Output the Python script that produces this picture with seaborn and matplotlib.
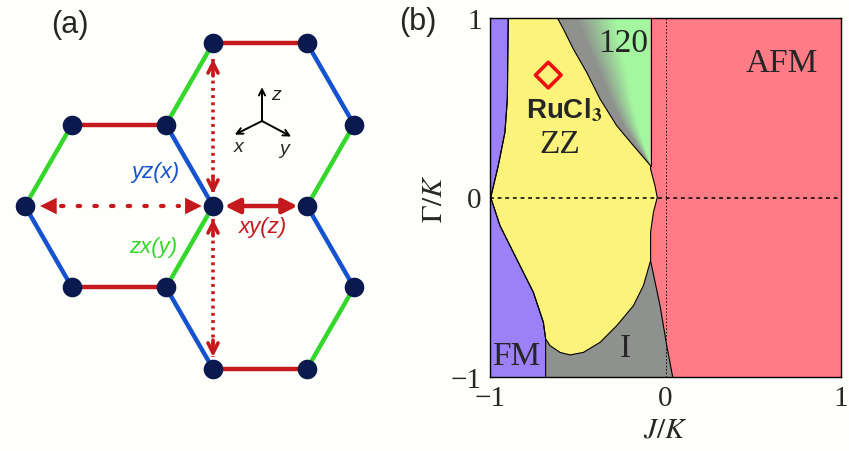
import numpy as np
import pandas as pd
import matplotlib
matplotlib.use("Agg")
import matplotlib.pyplot as plt
from matplotlib.patches import Polygon
import seaborn as sns

# --- panel (a): honeycomb nodes (bond length = 1) ---
NODE_X = [0, 1, -1.5, -0.5, 1.5, -2, 0, 1, -1.5, -0.5, 1.5, 0, 1]
NODE_Y = [1.732, 1.732, 0.866, 0.866, 0.866, 0, 0, 0, -0.866, -0.866, -0.866, -1.732, -1.732]
XY_BONDS = [(0, 1), (2, 3), (8, 9), (11, 12)]
ZX_BONDS = [(5, 2), (9, 6), (3, 0), (7, 4), (12, 10)]
YZ_BONDS = [(5, 8), (3, 6), (1, 4), (7, 10), (9, 11)]

# --- panel (b): phase boundaries, (J/K, Gamma/K) ---
FM_J = [-0.896, -0.899, -0.901, -0.915, -0.953, -0.996, -0.943, -0.848, -0.753, -0.696, -0.683, -0.683]
FM_G = [1.0, 0.75, 0.549, 0.363, 0.177, 0.0, -0.157, -0.343, -0.528, -0.695, -0.788, -1.0]
ZZ_BOT_J = [-0.683, -0.658, -0.601, -0.544, -0.468, -0.373, -0.278, -0.183, -0.126, -0.085]
ZZ_BOT_G = [-0.788, -0.825, -0.863, -0.877, -0.863, -0.807, -0.714, -0.603, -0.491, -0.352]
ZZ_RIGHT_J = [-0.085, -0.085, -0.069, -0.047, -0.060, -0.085, -0.085]
ZZ_RIGHT_G = [-0.352, -0.194, -0.083, 0.0, 0.066, 0.159, 0.177]
ZZ_TOP_J = [-0.085, -0.183, -0.278, -0.373, -0.449, -0.525, -0.582, -0.616]
ZZ_TOP_G = [0.177, 0.289, 0.400, 0.549, 0.697, 0.827, 0.939, 1.0]
AFM_LOW_J = [-0.085, -0.031, 0.007, 0.041]
AFM_LOW_G = [-0.352, -0.603, -0.825, -1.0]
RUCL3_J, RUCL3_G = [-0.668], [0.682]

C_FM, C_ZZ, C_AFM = "#9b80f8", "#fcf37b", "#ff7b86"
C_GREY, C_GREEN = "#8f918e", "#a4f7a0"
C_RED, C_BLUE, C_GRN, C_NODE = "#c41a1e", "#1452cf", "#33d82b", "#0b1a4e"

sns.set_theme(style="white")
plt.rcParams["mathtext.fontset"] = "stix"
serif = ["Liberation Serif", "DejaVu Serif"]
sans = ["Liberation Sans", "DejaVu Sans"]

fig = plt.figure(figsize=(8.49, 4.52), dpi=100, facecolor="#fefefb")

# ---------------- (a) ----------------
ax = fig.add_axes([0, 0, 400 / 849, 1])
ax.set_facecolor("none")
ax.set_xlim(-2.266, 1.989)
ax.set_ylim(-2.606, 2.202)
ax.axis("off")

for bonds, col in [(XY_BONDS, C_RED), (ZX_BONDS, C_GRN), (YZ_BONDS, C_BLUE)]:
    for i, j in bonds:
        ax.plot([NODE_X[i], NODE_X[j]], [NODE_Y[i], NODE_Y[j]], color=col,
                lw=3.2, solid_capstyle="butt", zorder=1)

nodes = pd.DataFrame({"x": NODE_X, "y": NODE_Y})
sns.scatterplot(data=nodes, x="x", y="y", ax=ax, s=200, color=C_NODE,
                edgecolor=C_NODE, linewidth=0, zorder=5, legend=False)

# dotted vertical arrows (open heads)
for y0, y1 in [(1.564, 0.128), (-0.138, -1.606)]:
    ax.plot([0, 0], [y0, y1], color=C_RED, lw=2.6, ls=(0, (0.8, 1.2)), zorder=2)
    for a, b in [(y0, y1), (y1, y0)]:
        d = 0.18 if b > a else -0.18
        ax.annotate("", xy=(0, b), xytext=(0, b - d),
                    arrowprops=dict(arrowstyle="->", color=C_RED, lw=2.6,
                                    shrinkA=0, shrinkB=0, mutation_scale=18))
# dotted horizontal arrow (filled heads)
ax.plot([-1.62, -0.36], [0, 0], color=C_RED, lw=3, ls=(0, (0.6, 3.4)),
        dash_capstyle="round", zorder=2)
for xa, xb in [(-1.55, -1.84), (-0.33, -0.12)]:
    ax.annotate("", xy=(xb, 0), xytext=(xa, 0),
                arrowprops=dict(arrowstyle="-|>", color=C_RED, lw=0,
                                shrinkA=0, shrinkB=0, mutation_scale=30))
# xy(z) solid double arrow
ax.annotate("", xy=(0.9, 0), xytext=(0.125, 0),
            arrowprops=dict(arrowstyle="<|-|>", color=C_RED, lw=3.2,
                            shrinkA=0, shrinkB=0, mutation_scale=22))

ax.text(-0.617, 0.372, "yz(x)", color=C_BLUE, style="italic", fontsize=16,
        family=sans, ha="center", va="center")
ax.text(-0.638, -0.436, "zx(y)", color=C_GRN, style="italic", fontsize=16,
        family=sans, ha="center", va="center")
ax.text(0.53, -0.223, "xy(z)", color=C_RED, style="italic", fontsize=16,
        family=sans, ha="center", va="center")

# spin axes triad
cx, cy = 0.521, 0.904
for dx, dy in [(0, 0.36), (-0.29, -0.145), (0.31, -0.165)]:
    ax.annotate("", xy=(cx + dx, cy + dy), xytext=(cx, cy),
                arrowprops=dict(arrowstyle="->", color="black", lw=1.4,
                                shrinkA=0, shrinkB=0, mutation_scale=11))
ax.text(0.67, 1.19, "z", style="italic", fontsize=14, family=sans, ha="center", va="center")
ax.text(0.27, 0.63, "x", style="italic", fontsize=14, family=sans, ha="center", va="center")
ax.text(0.76, 0.61, "y", style="italic", fontsize=14, family=sans, ha="center", va="center")

fig.text(70 / 849, 1 - 25 / 452, "(a)", fontsize=22, family=sans, ha="center", va="center")
fig.text(418 / 849, 1 - 22 / 452, "(b)", fontsize=22, family=sans, ha="center", va="center")

# ---------------- (b) ----------------
bx = fig.add_axes([490 / 849, 1 - 378 / 452, 351 / 849, 359 / 452])
bx.set_xlim(-1, 1)
bx.set_ylim(-1, 1)
bx.set_facecolor(C_AFM)

# 120 region with grey->green gradient away from the ZZ boundary
gg = np.linspace(ZZ_TOP_G[0], 1, 200)
jj = np.linspace(-0.62, ZZ_TOP_J[0], 300)
JJ, GG = np.meshgrid(jj, gg)
jb = np.interp(GG, ZZ_TOP_G, ZZ_TOP_J)
s = np.clip((JJ - jb) / (ZZ_TOP_J[0] - jb + 1e-9), 0, 1)
t = np.clip((s - 0.2) / 0.42, 0, 1)[..., None]
c0 = np.array(matplotlib.colors.to_rgb(C_GREY))
c1 = np.array(matplotlib.colors.to_rgb(C_GREEN))
img = c0 * (1 - t) + c1 * t
im = bx.imshow(img, extent=[jj[0], jj[-1], gg[0], gg[-1]], origin="lower",
               aspect="auto", zorder=1, interpolation="bilinear")
clip = Polygon(list(zip(ZZ_TOP_J, ZZ_TOP_G)) + [(ZZ_TOP_J[0], 1.0)], closed=True,
               transform=bx.transData, facecolor="none", edgecolor="none")
bx.add_patch(clip)
im.set_clip_path(clip)
bx.plot([ZZ_TOP_J[0], ZZ_TOP_J[0]], [ZZ_TOP_G[0], 1], color="black", lw=0.8, zorder=3)

# I region (grey)
i_pts = list(zip(ZZ_BOT_J, ZZ_BOT_G)) + list(zip(AFM_LOW_J[1:], AFM_LOW_G[1:])) + [(-0.683, -1.0)]
bx.add_patch(Polygon(i_pts, closed=True, facecolor=C_GREY, edgecolor="none", zorder=1))
bx.plot(AFM_LOW_J, AFM_LOW_G, color="black", lw=0.8, zorder=3)

# FM region
fm_pts = [(-1, 1)] + list(zip(FM_J, FM_G)) + [(-1, -1)]
bx.add_patch(Polygon(fm_pts, closed=True, facecolor=C_FM, edgecolor="none", zorder=1))

# ZZ region
zz_pts = (list(zip(FM_J[:-1], FM_G[:-1])) + list(zip(ZZ_BOT_J[1:], ZZ_BOT_G[1:]))
          + list(zip(ZZ_RIGHT_J[1:], ZZ_RIGHT_G[1:])) + list(zip(ZZ_TOP_J[1:], ZZ_TOP_G[1:])))
bx.add_patch(Polygon(zz_pts, closed=True, facecolor=C_ZZ, edgecolor="black", lw=0.8, zorder=2))
bx.plot(FM_J, FM_G, color="black", lw=0.8, zorder=3)

bx.axhline(0, color="black", lw=1.1, ls=(0, (2.5, 2.5)), zorder=4)
bx.axvline(0, color="black", lw=0.7, ls=(0, (1.5, 2)), zorder=4)

sns.scatterplot(x=RUCL3_J, y=RUCL3_G, ax=bx, marker="D", s=170, facecolor="none",
                edgecolor="#ee1010", linewidth=2.6, zorder=6, legend=False)

bx.text(-0.24, 0.86, "120", fontsize=24, family=serif, ha="center", va="center", zorder=5)
bx.text(0.66, 0.75, "AFM", fontsize=24, family=serif, ha="center", va="center", zorder=5)
bx.text(-0.60, 0.30, "ZZ", fontsize=24, family=serif, ha="center", va="center", zorder=5)
bx.text(-0.58, 0.49, r"RuCl$_\mathbf{3}$", fontsize=20, family=sans, weight="bold",
        ha="center", va="center", zorder=5)
bx.text(-0.85, -0.88, "FM", fontsize=24, family=serif, ha="center", va="center", zorder=5)
bx.text(-0.23, -0.835, "I", fontsize=24, family=serif, ha="center", va="center", zorder=5)

bx.set_xticks([-1, 0, 1])
bx.set_yticks([-1, 0, 1])
bx.set_xticklabels(["\u22121", "0", "1"], family=serif, fontsize=21)
bx.set_yticklabels(["\u22121", "0", "1"], family=serif, fontsize=21)
bx.tick_params(length=0, pad=6)
bx.set_xlabel(r"$J/K$", fontsize=21, labelpad=2)
bx.set_ylabel(r"$\Gamma/K$", fontsize=21, labelpad=2)
for sp in bx.spines.values():
    sp.set_color("black")
    sp.set_linewidth(1.0)
    sp.set_zorder(7)

fig.savefig("out.png", dpi=100, facecolor=fig.get_facecolor())
